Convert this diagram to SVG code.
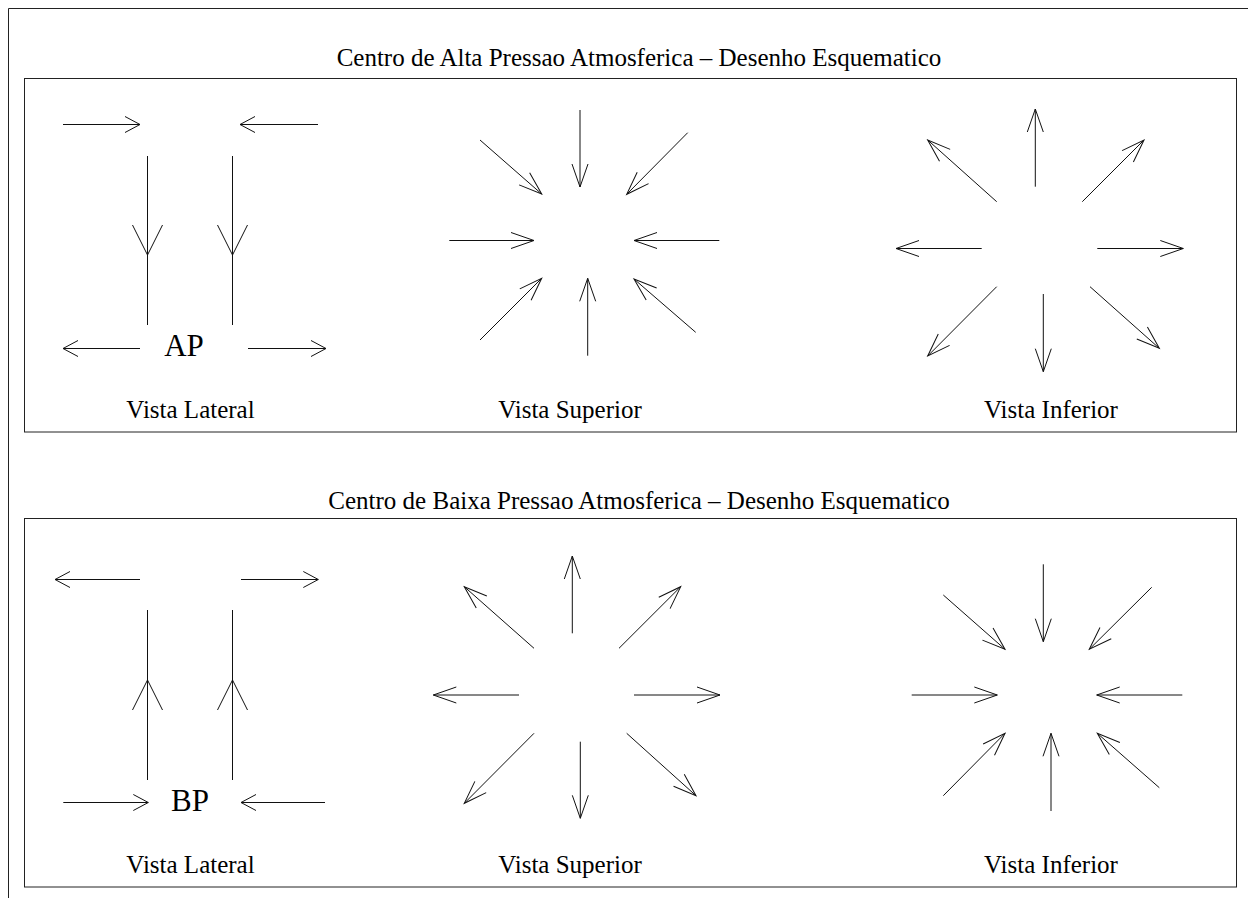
<svg xmlns="http://www.w3.org/2000/svg" width="1248" height="898" viewBox="0 0 1248 898">
  <style>
    .frame { fill: none; stroke: #222; stroke-width: 1; }
    .arw { fill: none; stroke: #111; stroke-width: 1; }
    .s { marker-end: url(#headS); }
    .m { marker-end: url(#headM); }
    .mid { marker-mid: url(#headL); }
    .title { font-family: "Liberation Serif", "Times New Roman", serif; font-size: 25px; fill: #000; text-anchor: middle; }
    .label { font-family: "Liberation Serif", "Times New Roman", serif; font-size: 25px; fill: #000; text-anchor: middle; }
    .big { font-family: "Liberation Serif", "Times New Roman", serif; font-size: 31px; fill: #000; text-anchor: middle; }
  </style>
  <defs>
    <!-- open arrowheads: two strokes meeting at the tip -->
    <marker id="headS" markerUnits="userSpaceOnUse" orient="auto" overflow="visible" markerWidth="1" markerHeight="1">
      <path d="M-15,-8 L0,0 L-15,8" fill="none" stroke="#111" stroke-width="1"/>
    </marker>
    <marker id="headM" markerUnits="userSpaceOnUse" orient="auto" overflow="visible" markerWidth="1" markerHeight="1">
      <path d="M-23,-8 L0,0 L-23,8" fill="none" stroke="#111" stroke-width="1"/>
    </marker>
    <marker id="headL" markerUnits="userSpaceOnUse" orient="auto" overflow="visible" markerWidth="1" markerHeight="1">
      <path d="M-30,-15 L0,0 L-30,15" fill="none" stroke="#111" stroke-width="1"/>
    </marker>
  </defs>

  <rect width="1248" height="898" fill="#fff"/>

  <!-- page edge -->
  <g id="page-edge" class="frame">
    <polyline points="8.5,898 8.5,8.5 1248,8.5"/>
  </g>

  <!-- ===== High pressure panel ===== -->
  <g id="panel-alta">
    <text class="title" x="639" y="66">Centro de Alta Pressao Atmosferica – Desenho Esquematico</text>
    <rect class="frame" x="24.5" y="78.5" width="1212" height="353.5"/>
    <text id="ap" class="big" x="184" y="356">AP</text>
    <text class="label" x="190.5" y="418">Vista Lateral</text>
    <text class="label" x="570" y="418">Vista Superior</text>
    <text class="label" x="1051" y="418">Vista Inferior</text>
  </g>

  <!-- ===== Low pressure panel ===== -->
  <g id="panel-baixa">
    <text class="title" x="639" y="509">Centro de Baixa Pressao Atmosferica – Desenho Esquematico</text>
    <rect class="frame" x="24.5" y="518.5" width="1212" height="368.5"/>
    <text id="bp" class="big" x="190" y="811">BP</text>
    <text class="label" x="190.5" y="873">Vista Lateral</text>
    <text class="label" x="570" y="873">Vista Superior</text>
    <text class="label" x="1051" y="873">Vista Inferior</text>
  </g>

  <g id="connectors" class="arw">
    <!-- Alta: side view -->
    <line class="s" x1="63" y1="124.5" x2="140" y2="124.5"/>
    <line class="s" x1="318" y1="124.5" x2="240" y2="124.5"/>
    <polyline class="mid" points="147.5,156 147.5,255 147.5,325"/>
    <polyline class="mid" points="232.5,156 232.5,255 232.5,325"/>
    <line class="s" x1="140" y1="348.5" x2="63" y2="348.5"/>
    <line class="s" x1="248" y1="348.5" x2="326" y2="348.5"/>

    <!-- Alta: top view (converging) -->
    <line class="m" x1="580" y1="110" x2="580" y2="187"/>
    <line class="m" x1="480" y1="140" x2="541.7" y2="194"/>
    <line class="m" x1="687.7" y1="132.7" x2="626.7" y2="194.3"/>
    <line class="m" x1="449.3" y1="240.5" x2="534" y2="240.5"/>
    <line class="m" x1="719.3" y1="240.5" x2="634" y2="240.5"/>
    <line class="m" x1="480" y1="340" x2="541.7" y2="278.3"/>
    <line class="m" x1="587.7" y1="355.7" x2="587.7" y2="278.3"/>
    <line class="m" x1="695.7" y1="332.3" x2="634" y2="279"/>

    <!-- Alta: bottom view (diverging) -->
    <line class="m" x1="1035.3" y1="186.7" x2="1035.3" y2="109"/>
    <line class="m" x1="996.7" y1="201.7" x2="927.7" y2="140"/>
    <line class="m" x1="1082.3" y1="201.7" x2="1144" y2="140"/>
    <line class="m" x1="981.7" y1="248.5" x2="896" y2="248.5"/>
    <line class="m" x1="1097.3" y1="248.5" x2="1183.3" y2="248.5"/>
    <line class="m" x1="996.7" y1="286.7" x2="927.7" y2="356"/>
    <line class="m" x1="1043.3" y1="294" x2="1043.3" y2="371.7"/>
    <line class="m" x1="1090" y1="286.7" x2="1159.3" y2="348.3"/>

    <!-- Baixa: side view -->
    <line class="s" x1="140" y1="579.5" x2="55" y2="579.5"/>
    <line class="s" x1="241" y1="579.5" x2="318.3" y2="579.5"/>
    <polyline class="mid" points="147.5,780 147.5,680 147.5,610"/>
    <polyline class="mid" points="232.5,780 232.5,680 232.5,610"/>
    <line class="s" x1="63.3" y1="802.5" x2="148.3" y2="802.5"/>
    <line class="s" x1="325" y1="802.5" x2="241" y2="802.5"/>

    <!-- Baixa: top view (diverging) -->
    <line class="m" x1="572.3" y1="633.3" x2="572.3" y2="556"/>
    <line class="m" x1="534" y1="648.3" x2="464.3" y2="586.7"/>
    <line class="m" x1="619" y1="648.3" x2="680.7" y2="586.7"/>
    <line class="m" x1="519" y1="695" x2="433.3" y2="695"/>
    <line class="m" x1="634" y1="695" x2="720" y2="695"/>
    <line class="m" x1="534" y1="733.3" x2="464.3" y2="803.3"/>
    <line class="m" x1="580.3" y1="741.7" x2="580.3" y2="818.3"/>
    <line class="m" x1="626.7" y1="733.3" x2="696" y2="795.7"/>

    <!-- Baixa: bottom view (converging) -->
    <line class="m" x1="1043.3" y1="564.3" x2="1043.3" y2="641.7"/>
    <line class="m" x1="943.3" y1="595" x2="1005" y2="649.3"/>
    <line class="m" x1="1151.7" y1="587.3" x2="1089.3" y2="649.3"/>
    <line class="m" x1="911.7" y1="695" x2="997.3" y2="695"/>
    <line class="m" x1="1182.3" y1="695" x2="1096.7" y2="695"/>
    <line class="m" x1="943.3" y1="795.7" x2="1005" y2="733.3"/>
    <line class="m" x1="1051" y1="811" x2="1051" y2="733.3"/>
    <line class="m" x1="1159.3" y1="787.7" x2="1097.3" y2="733.3"/>
  </g>
</svg>
